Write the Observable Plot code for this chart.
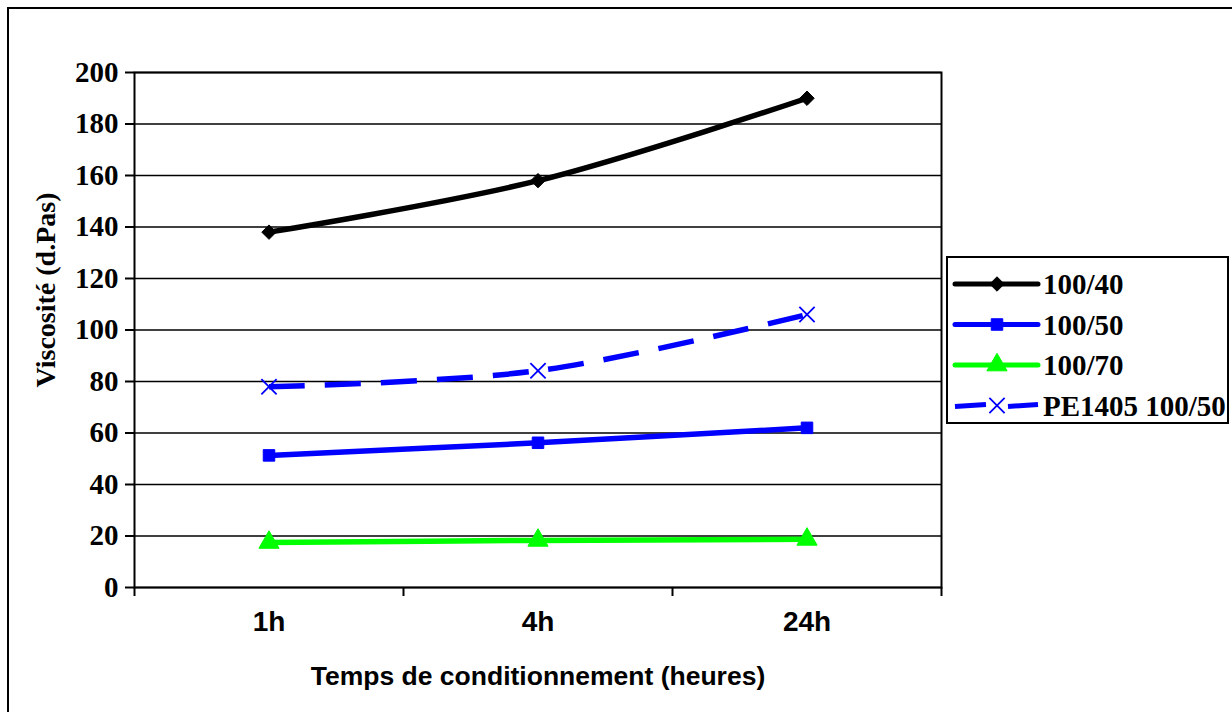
<!DOCTYPE html>
<html>
<head>
<meta charset="utf-8">
<script src="https://cdn.jsdelivr.net/npm/d3@7"></script>
<script src="https://cdn.jsdelivr.net/npm/@observablehq/plot@0.6"></script>
<style>
  html, body { margin: 0; padding: 0; background: #fff; }
  #wrap { position: relative; width: 1232px; height: 712px; overflow: hidden; }
  #border { position: absolute; left: 7px; top: 7px; width: 1240px; height: 720px; border-left: 2px solid #000; border-top: 2px solid #000; }
  #chart { position: absolute; left: 0; top: 0; }
  #legend { position: absolute; left: 946px; top: 256px; }
</style>
</head>
<body>
<div id="wrap">
  <div id="border"></div>
  <div id="chart"></div>
  <div id="legend"></div>
</div>
<script>
// ---- data ----
const categories = ["1h", "4h", "24h"];
const seriesNames = ["100/40", "100/50", "100/70", "PE1405 100/50"];
const v100_40 = [138, 158, 190];
const v100_50 = [51.3, 56.2, 62];
const v100_70 = [17.5, 18.3, 18.7];
const vPE1405 = [78, 84.2, 106];
const yTicks = [0, 20, 40, 60, 80, 100, 120, 140, 160, 180, 200];
const yTitle = "Viscosité (d.Pas)";
const xTitle = "Temps de conditionnement (heures)";

const seriesValues = [v100_40, v100_50, v100_70, vPE1405];

// ---- styles ----
const styles = {
  "100/40": {color: "#000000", symbol: "diamond2", dash: null, markerFill: "#000000", r: 6.5},
  "100/50": {color: "#0000FF", symbol: "square", dash: null, markerFill: "#0000FF", r: 6.5},
  "100/70": {color: "#00FF00", symbol: "triangle", dash: null, markerFill: "#00FF00", r: 7.5},
  "PE1405 100/50": {color: "#0000FF", symbol: "times", dash: "36,20", markerFill: "none", r: 7}
};

const rows = [];
seriesNames.forEach((s, si) => {
  categories.forEach((c, ci) => rows.push({series: s, cat: c, xi: ci + 0.5, v: seriesValues[si][ci]}));
});

const serif = "'Liberation Serif', 'Times New Roman', serif";
const sans = "'Liberation Sans', Arial, sans-serif";

const marks = [
  Plot.ruleY(yTicks, {stroke: "#000", strokeWidth: 1.6}),
  Plot.frame({stroke: "#000", strokeWidth: 2}),
  Plot.axisY(yTicks, {tickSize: 9, tickPadding: 7, fontSize: 29, fontFamily: serif, fontWeight: "bold", strokeWidth: 2, label: null}),
  Plot.axisX([0, 1, 2, 3], {tickSize: 9, tickFormat: () => "", strokeWidth: 2, label: null}),
  Plot.text(categories, {x: (d, i) => i + 0.5, text: d => d, frameAnchor: "bottom", dy: 43, fontSize: 28, fontFamily: sans, fontWeight: "bold", fill: "#000"}),
  Plot.text([xTitle], {text: d => d, frameAnchor: "bottom", dy: 97, fontSize: 26.5, fontFamily: sans, fontWeight: "bold", fill: "#000"}),
  Plot.text([yTitle], {text: d => d, frameAnchor: "left", textAnchor: "middle", dx: -88, dy: -40, rotate: -90, fontSize: 28, fontFamily: serif, fontWeight: "bold", fill: "#000"})
];

seriesNames.forEach(s => {
  const st = styles[s];
  const data = rows.filter(r => r.series === s);
  marks.push(Plot.line(data, {x: "xi", y: "v", stroke: st.color, strokeWidth: 5.5, curve: "catmull-rom", strokeDasharray: st.dash, strokeLinecap: "butt"}));
});
seriesNames.forEach(s => {
  const st = styles[s];
  const data = rows.filter(r => r.series === s);
  marks.push(Plot.dot(data, {x: "xi", y: "v", symbol: st.symbol, r: st.r, fill: st.markerFill, stroke: st.color, strokeWidth: st.symbol === "times" ? 1.8 : 1}));
});

const chart = Plot.plot({
  width: 1232,
  height: 712,
  marginLeft: 134,
  marginRight: 291,
  marginTop: 72,
  marginBottom: 125,
  x: {type: "linear", domain: [0, 3], axis: null},
  y: {domain: [0, 200], axis: null},
  style: {background: "transparent", color: "#000", overflow: "visible"},
  marks
});
document.getElementById("chart").appendChild(chart);

// ---- legend ----
const lw = 283, lh = 168;
const leg = d3.select("#legend").append("svg").attr("width", lw).attr("height", lh);
leg.append("rect").attr("x", 1).attr("y", 1).attr("width", lw - 2).attr("height", lh - 2)
  .attr("fill", "#fff").attr("stroke", "#000").attr("stroke-width", 2);
const symMap = {diamond2: d3.symbolDiamond2, square: d3.symbolSquare, triangle: d3.symbolTriangle, times: d3.symbolTimes};
seriesNames.forEach((s, i) => {
  const st = styles[s];
  const cy = 28 + i * 40.5;
  const g = leg.append("g");
  if (st.dash) {
    g.append("line").attr("x1", 9).attr("x2", 40).attr("y1", cy + 1).attr("y2", cy - 1)
      .attr("stroke", st.color).attr("stroke-width", 5);
    g.append("line").attr("x1", 62).attr("x2", 92).attr("y1", cy + 1).attr("y2", cy - 1)
      .attr("stroke", st.color).attr("stroke-width", 5);
  } else {
    g.append("line").attr("x1", 9).attr("x2", 92).attr("y1", cy).attr("y2", cy)
      .attr("stroke", st.color).attr("stroke-width", 5).attr("stroke-linecap", "round");
  }
  const area = Math.PI * st.r * st.r;
  g.append("path").attr("transform", `translate(51,${cy})`)
    .attr("d", d3.symbol(symMap[st.symbol], area)())
    .attr("fill", st.markerFill).attr("stroke", st.color).attr("stroke-width", st.symbol === "times" ? 1.8 : 1);
  g.append("text").attr("x", 97).attr("y", cy).attr("dy", "0.35em")
    .attr("font-family", serif).attr("font-weight", "bold").attr("font-size", 29).attr("fill", "#000")
    .text(s);
});
</script>
</body>
</html>
